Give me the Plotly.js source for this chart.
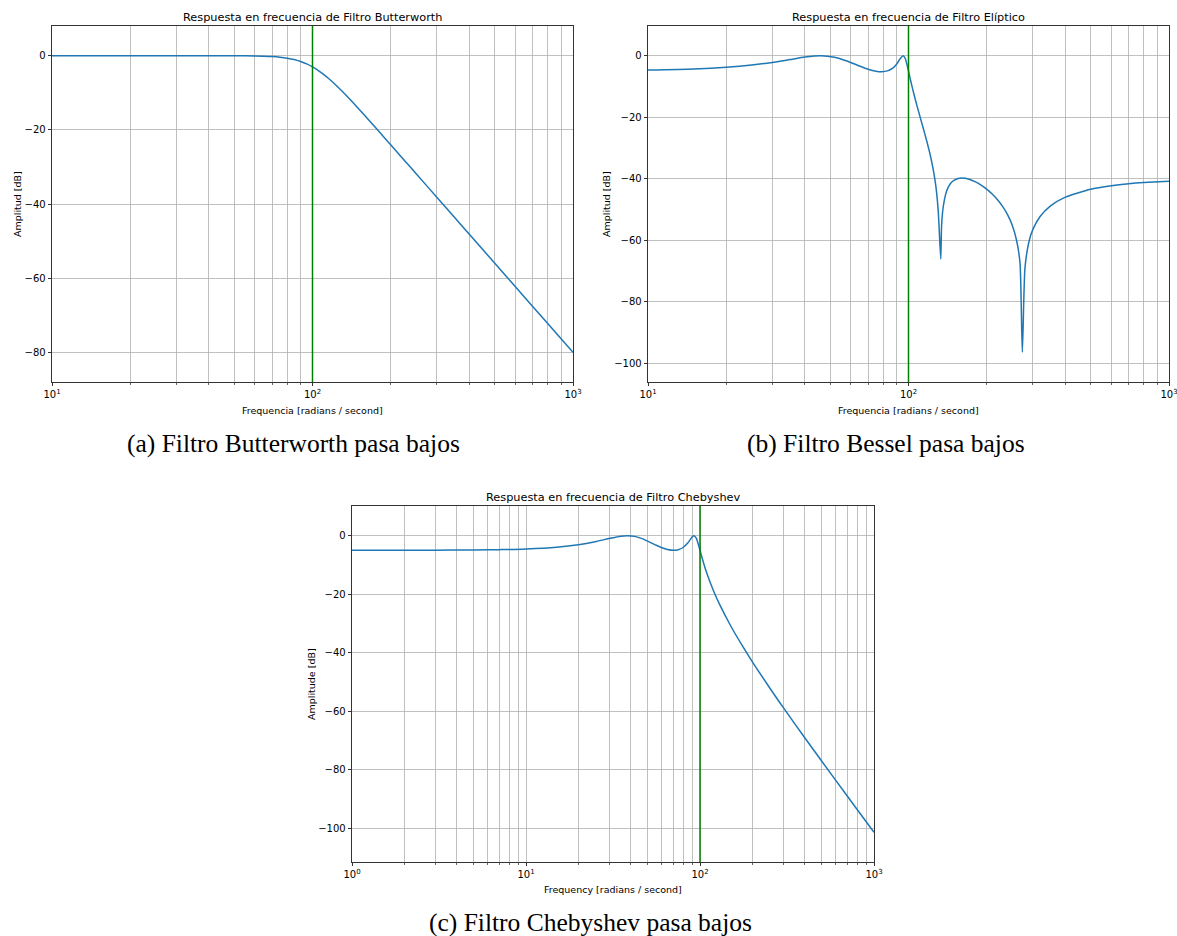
<!DOCTYPE html>
<html>
<head>
<meta charset="utf-8">
<script src="https://cdn.plot.ly/plotly-3.0.1.min.js"></script>
<style>
html,body{margin:0;padding:0;background:#fff;}
#chart{width:1177px;height:936px;}
</style>
</head>
<body>
<div id="chart"></div>
<script>
// ---------- data ----------
const freqButter = [10,20,30,40,50,55,60,65,70,75,80,85,90,95,100,105,110,115,120,130,140,150,160,170,180,200,225,250,300,350,400,500,600,700,800,900,1000];
const magButter  = [0,0,0,-0.003,-0.017,-0.036,-0.072,-0.136,-0.243,-0.414,-0.673,-1.046,-1.556,-2.21,-3.01,-3.94,-4.97,-6.08,-7.24,-9.62,-11.98,-14.25,-16.43,-18.50,-20.46,-24.10,-28.18,-31.84,-38.17,-43.53,-48.16,-55.92,-62.25,-67.61,-72.25,-76.34,-80.00];

const freqEllip = [10,15,20,25,30,35,40,46,52,58,64,70,75,79,83,87,90,93,95.35,97,98.5,100,102,105,108,111,114,117,120,123,126,128,130,131,133,134,136,139,142,146,150,155,160,165,172,180,190,200,210,220,230,240,250,260,268,273.5,280,290,300,320,350,400,500,600,700,800,1000];
const magEllip  = [-4.69,-4.31,-3.76,-3.05,-2.20,-1.28,-0.46,0,-0.51,-1.76,-3.20,-4.40,-5.04,-5.21,-4.95,-4.06,-2.77,-0.95,0,-0.76,-2.63,-5.00,-8.23,-12.63,-16.55,-20.17,-23.66,-27.15,-30.79,-34.83,-39.69,-43.92,-50.18,-55.42,-66.1,-55.02,-48.93,-44.90,-42.81,-41.25,-40.41,-39.90,-39.77,-39.86,-40.25,-40.95,-42.08,-43.45,-45.05,-46.89,-49.05,-51.67,-55.06,-60.05,-67.45,-96.4,-68.93,-60.46,-56.54,-52.25,-48.87,-45.97,-43.41,-42.27,-41.63,-41.24,-40.80];

const freqCheby = [1,2,3,5,7,10,15,20,25,30,35,38.3,42,46,50,55,60,65,70.7,75,80,85,88,90,92.4,95,97,98.5,100,102,105,110,120,130,150,175,200,250,300,400,500,600,700,800,900,1000];
const magCheby  = [-5.00,-4.98,-4.96,-4.88,-4.77,-4.52,-3.92,-3.09,-2.07,-0.99,-0.18,0,-0.24,-0.94,-1.88,-3.06,-4.04,-4.71,-5.00,-4.81,-4.04,-2.53,-1.28,-0.48,0,-0.75,-2.22,-3.58,-5.00,-6.87,-9.46,-13.20,-19.07,-23.65,-30.77,-37.59,-43.08,-51.76,-58.58,-69.02,-76.97,-83.42,-88.84,-93.52,-97.64,-101.32];

const cutoff = 100;

const titles = ["Respuesta en frecuencia de Filtro Butterworth","Respuesta en frecuencia de Filtro Elíptico","Respuesta en frecuencia de Filtro Chebyshev"];
const xTitles = ["Frequencia [radians / second]","Frequencia [radians / second]","Frequency [radians / second]"];
const yTitles = ["Amplitud [dB]","Amplitud [dB]","Amplitude [dB]"];
const captions = ["(a) Filtro Butterworth pasa bajos","(b) Filtro Bessel pasa bajos","(c) Filtro Chebyshev pasa bajos"];
const xTickValsAB = [10,100,1000];
const xTickTextAB = ["10<sup>1</sup>","10<sup>2</sup>","10<sup>3</sup>"];
const xTickValsC = [1,10,100,1000];
const xTickTextC = ["10<sup>0</sup>","10<sup>1</sup>","10<sup>2</sup>","10<sup>3</sup>"];
const yTickVals = [0,-20,-40,-60,-80,-100];

// ---------- layout helpers ----------
const W = 1177, H = 936;
const px = x => x / W;
const py = y => 1 - y / H;

function minorVals(d0, d1){
  const v = [];
  for (let d = d0; d < d1; d++) for (let m = 2; m <= 9; m++) v.push(m * Math.pow(10, d));
  return v;
}
function yRange(arr){
  const mn = Math.min(...arr), mx = Math.max(...arr), pad = (mx - mn) * 0.1;
  return [mn - pad, mx + pad];
}

const blue = '#1f77b4';
const gridC = '#b0b0b0';
const tickFont = {family:'DejaVu Sans', size:10, color:'#000'};

function xaxisDef(domain, d0, d1, vals, text){
  return {
    type:'log', domain:domain, range:[d0, d1], anchor:null,
    tickmode:'array', tickvals:vals, ticktext:text, ticklabeloverflow:'allow',
    ticks:'outside', ticklen:3.5, tickwidth:0.8, tickcolor:'#000',
    showline:true, mirror:true, linecolor:'#000', linewidth:0.8,
    showgrid:true, gridcolor:gridC, gridwidth:0.8, zeroline:false,
    tickfont:tickFont,
    minor:{tickmode:'array', tickvals:minorVals(d0, d1), ticks:'outside', ticklen:2, tickwidth:0.6, tickcolor:'#000', showgrid:true, gridcolor:gridC, gridwidth:0.8}
  };
}
function yaxisDef(domain, data){
  return {
    domain:domain, range:yRange(data), anchor:null,
    tickmode:'array', tickvals:yTickVals,
    ticks:'outside', ticklen:3.5, tickwidth:0.8, tickcolor:'#000',
    showline:true, mirror:true, linecolor:'#000', linewidth:0.8,
    showgrid:true, gridcolor:gridC, gridwidth:0.8, zeroline:false,
    tickfont:tickFont
  };
}

const axA = {x:[52,573], y:[26,382]};
const axB = {x:[648,1169], y:[26,382]};
const axC = {x:[352,874], y:[506,862]};
const dom = a => ({x:[px(a.x[0]), px(a.x[1])], y:[py(a.y[1]), py(a.y[0])]});
const dA = dom(axA), dB = dom(axB), dC = dom(axC);

const lineStyle = {color:blue, width:1.5, shape:'spline', smoothing:1};
const traces = [
  {x:freqButter, y:magButter, xaxis:'x', yaxis:'y', mode:'lines', line:lineStyle},
  {x:freqEllip, y:magEllip, xaxis:'x2', yaxis:'y2', mode:'lines', line:{color:blue, width:1.5, shape:'spline', smoothing:0.6}},
  {x:freqCheby, y:magCheby, xaxis:'x3', yaxis:'y3', mode:'lines', line:lineStyle}
];

const layout = {
  width:W, height:H, margin:{l:0,r:0,t:0,b:0},
  paper_bgcolor:'#fff', plot_bgcolor:'#fff', showlegend:false,
  xaxis: Object.assign(xaxisDef(dA.x, 1, 3, xTickValsAB, xTickTextAB), {anchor:'y'}),
  yaxis: Object.assign(yaxisDef(dA.y, magButter), {anchor:'x'}),
  xaxis2: Object.assign(xaxisDef(dB.x, 1, 3, xTickValsAB, xTickTextAB), {anchor:'y2'}),
  yaxis2: Object.assign(yaxisDef(dB.y, magEllip), {anchor:'x2'}),
  xaxis3: Object.assign(xaxisDef(dC.x, 0, 3, xTickValsC, xTickTextC), {anchor:'y3'}),
  yaxis3: Object.assign(yaxisDef(dC.y, magCheby), {anchor:'x3'}),
  shapes: [
    {type:'line', xref:'x', yref:'y domain', x0:cutoff, x1:cutoff, y0:0, y1:1, line:{color:'green', width:1.5}},
    {type:'line', xref:'x2', yref:'y2 domain', x0:cutoff, x1:cutoff, y0:0, y1:1, line:{color:'green', width:1.5}},
    {type:'line', xref:'x3', yref:'y3 domain', x0:cutoff, x1:cutoff, y0:0, y1:1, line:{color:'green', width:1.5}}
  ],
  annotations: []
};

const axes = [axA, axB, axC];
const titleY = [17, 17, 497];
const xTitleY = [410, 410, 889];
const yTitleX = [17, 606, 311];
const capPos = [[293,443],[886.5,443],[590.5,922]];
axes.forEach((a,i) => {
  const cx = (a.x[0] + a.x[1]) / 2, cy = (a.y[0] + a.y[1]) / 2;
  layout.annotations.push({text:titles[i], xref:'paper', yref:'paper', x:px(cx), y:py(titleY[i]), xanchor:'center', yanchor:'middle', showarrow:false, font:{family:'DejaVu Sans', size:11.3, color:'#000'}});
  layout.annotations.push({text:xTitles[i], xref:'paper', yref:'paper', x:px(cx), y:py(xTitleY[i]), xanchor:'center', yanchor:'middle', showarrow:false, font:{family:'DejaVu Sans', size:9.5, color:'#000'}});
  layout.annotations.push({text:yTitles[i], xref:'paper', yref:'paper', x:px(yTitleX[i]), y:py(cy), xanchor:'center', yanchor:'middle', textangle:-90, showarrow:false, font:{family:'DejaVu Sans', size:9.5, color:'#000'}});
  layout.annotations.push({text:captions[i], xref:'paper', yref:'paper', x:px(capPos[i][0]), y:py(capPos[i][1]), xanchor:'center', yanchor:'middle', showarrow:false, font:{family:'Liberation Serif', size:25.5, color:'#000'}});
});

Plotly.newPlot('chart', traces, layout, {displayModeBar:false, staticPlot:true});
</script>
</body>
</html>
